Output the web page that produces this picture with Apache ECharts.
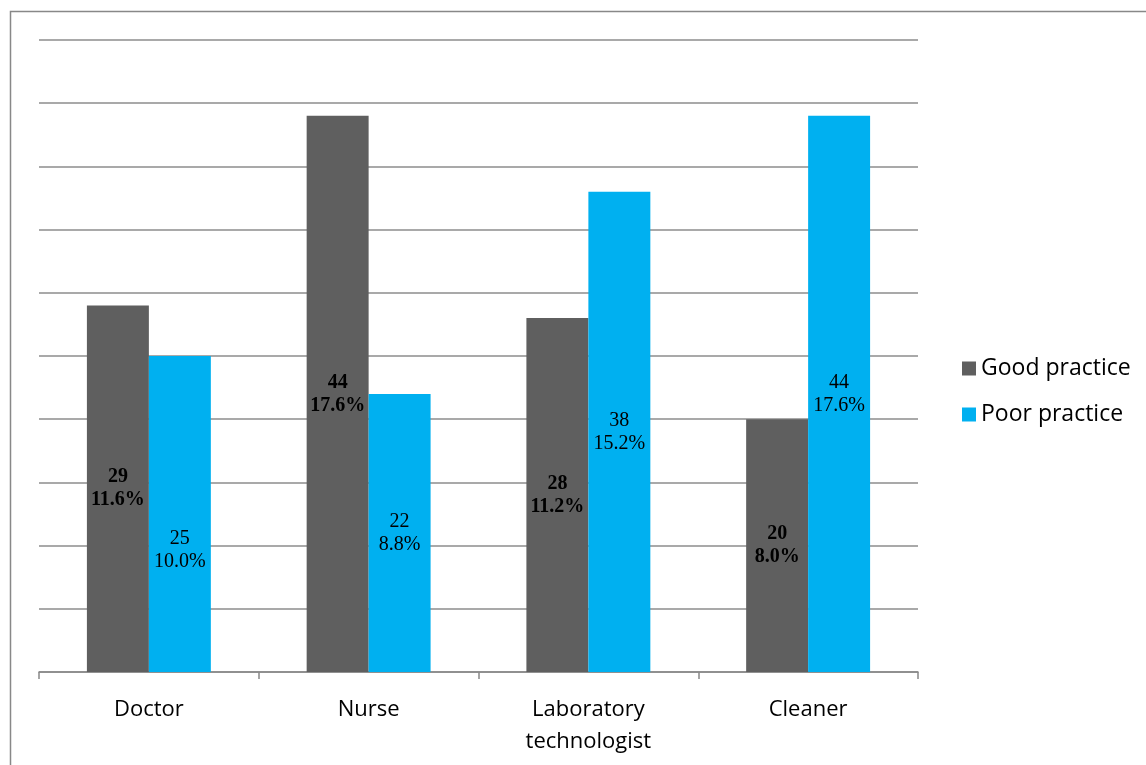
<!DOCTYPE html>
<html>
<head>
	<meta charset="utf-8">
	<title>Practice by profession</title>
	<script src="https://cdn.jsdelivr.net/npm/echarts@6/dist/echarts.min.js"></script>
	<style>
		html, body { margin: 0; padding: 0; background: #fff; }
		#main { width: 1146px; height: 765px; }
	</style>
</head>
<body>
	<div id="main"></div>
	<script type="text/javascript">
		var categories = ['Doctor', 'Nurse', 'Laboratory\ntechnologist', 'Cleaner'];
		var seriesNames = ['Good practice', 'Poor practice'];
		var goodCounts = [29, 44, 28, 20];
		var goodPercents = ['11.6%', '17.6%', '11.2%', '8.0%'];
		var poorCounts = [25, 22, 38, 44];
		var poorPercents = ['10.0%', '8.8%', '15.2%', '17.6%'];

		var myChart = echarts.init(document.getElementById('main'));

		function makeData(counts, percents, shiftFirst) {
			return counts.map(function (v, i) {
				var d = { value: v, pct: percents[i] };
				// the first label of the poor series sits lower in the original
				if (shiftFirst && i === 0) {
					d.label = { offset: [0, 36] };
				}
				return d;
			});
		}

		function labelFmt(p) {
			return p.value + '\n' + p.data.pct;
		}

		var option = {
			animation: false,
			graphic: [{
				type: 'rect',
				shape: { x: 10.5, y: 11.5, width: 2000, height: 2000 },
				style: { fill: 'none', stroke: '#888', lineWidth: 1.5 }
			}],
			grid: { left: 39, right: 228, top: 40, bottom: 93 },
			legend: {
				orient: 'vertical',
				left: 957,
				top: 352,
				itemWidth: 14,
				itemHeight: 14,
				itemGap: 23,
				icon: 'rect',
				textStyle: { fontFamily: 'Open Sans', fontSize: 23, color: '#000' },
				data: seriesNames
			},
			xAxis: {
				type: 'category',
				data: categories,
				axisLine: { lineStyle: { color: '#888', width: 1.5 } },
				axisTick: { show: true, length: 7, lineStyle: { color: '#888', width: 1.5 } },
				axisLabel: {
					margin: 22,
					fontFamily: 'Open Sans',
					fontSize: 22,
					lineHeight: 32,
					color: '#000'
				}
			},
			yAxis: {
				type: 'value',
				min: 0,
				max: 50,
				interval: 5,
				axisLabel: { show: false },
				axisLine: { show: false },
				axisTick: { show: false },
				splitLine: { lineStyle: { color: '#8c8c8c', width: 1.5 } }
			},
			series: [{
				name: seriesNames[0],
				type: 'bar',
				barGap: '0%',
				barCategoryGap: '43.6%',
				itemStyle: { color: '#5f5f5f' },
				label: {
					show: true,
					position: 'inside',
					formatter: labelFmt,
					fontFamily: 'Liberation Serif',
					fontWeight: 'bold',
					fontSize: 20,
					lineHeight: 23,
					color: '#000'
				},
				data: makeData(goodCounts, goodPercents, false)
			}, {
				name: seriesNames[1],
				type: 'bar',
				itemStyle: { color: '#00b0f0' },
				label: {
					show: true,
					position: 'inside',
					formatter: labelFmt,
					fontFamily: 'Liberation Serif',
					fontSize: 20,
					lineHeight: 23,
					color: '#000'
				},
				data: makeData(poorCounts, poorPercents, true)
			}]
		};

		myChart.setOption(option);
	</script>
</body>
</html>
